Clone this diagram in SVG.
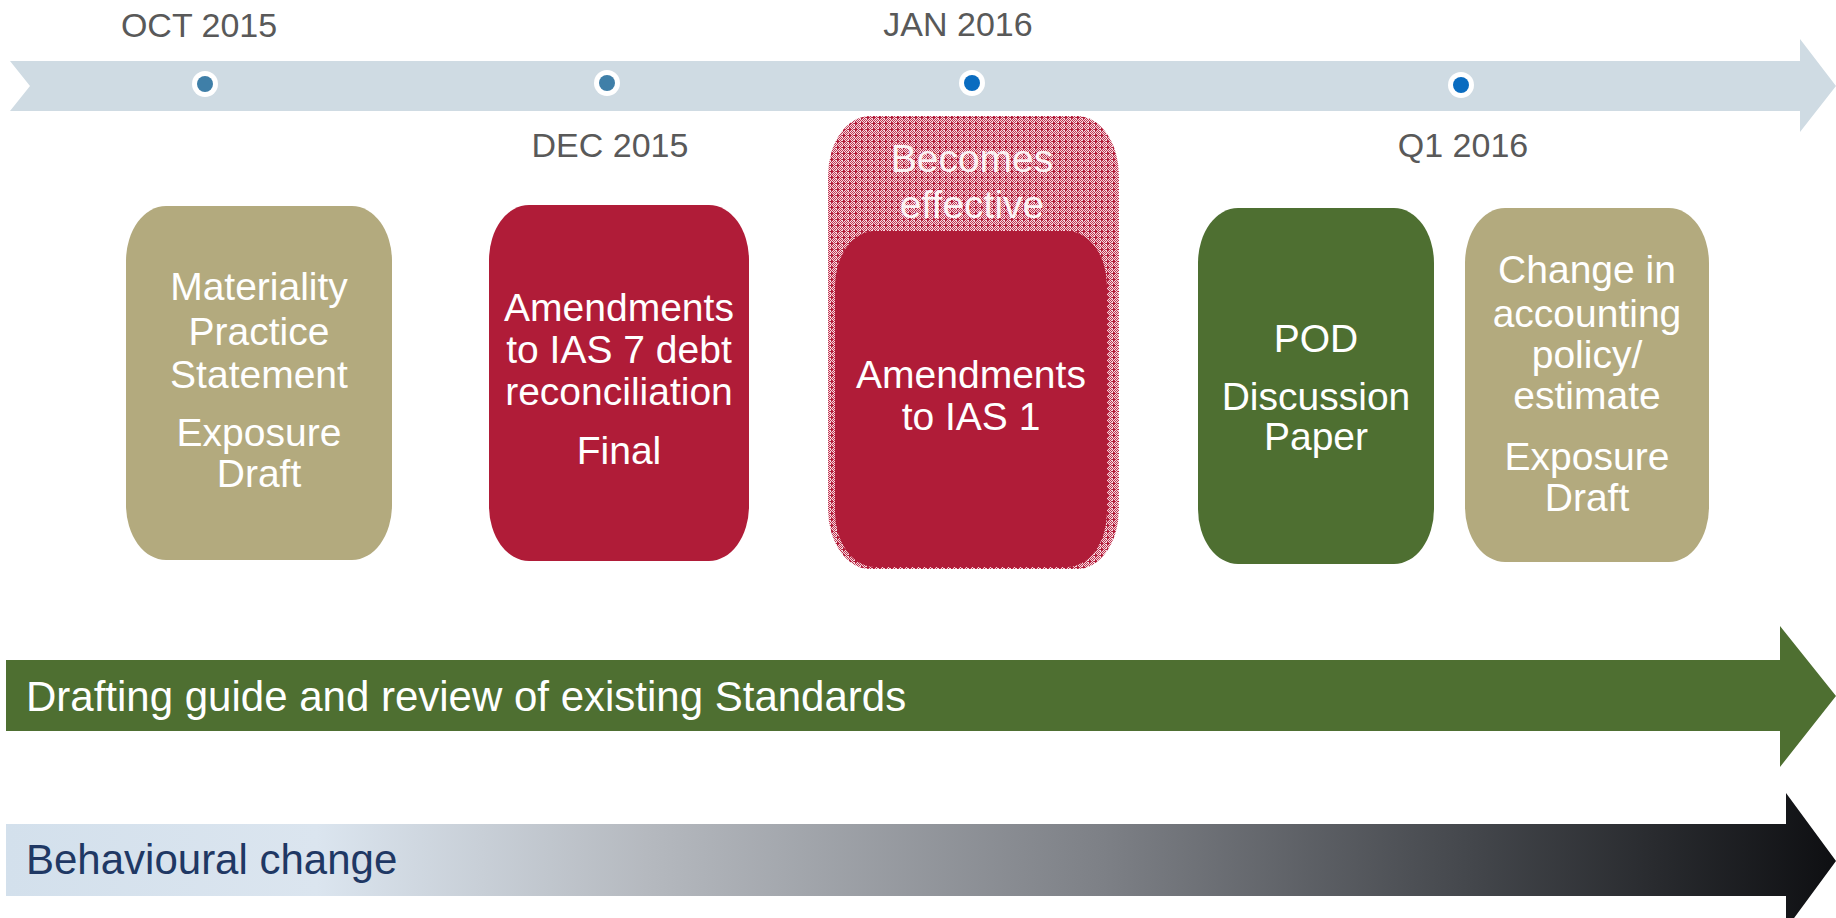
<svg xmlns="http://www.w3.org/2000/svg" width="1836" height="918" viewBox="0 0 1836 918">
<style>
.date{font-family:"Liberation Sans",Arial,sans-serif;font-size:34px;fill:#595959;text-anchor:middle}
.bt{font-family:"Liberation Sans",Arial,sans-serif;font-size:39px;fill:#ffffff;text-anchor:middle}
.band{font-family:"Liberation Sans",Arial,sans-serif;font-size:42px}
.ring{fill:#ffffff}
</style>
<defs>
<pattern id="dots" width="6" height="6" patternUnits="userSpaceOnUse">
<rect width="6" height="6" fill="#f4d9df"/>
<path d="M0 0h1v1h-1zM2 0h1v1h-1zM4 0h1v1h-1zM1 1h1v1h-1zM3 1h1v1h-1zM5 1h1v1h-1zM0 2h1v1h-1zM4 2h1v1h-1zM1 5h1v1h-1zM3 5h1v1h-1zM5 5h1v1h-1zM0 4h1v1h-1zM4 4h1v1h-1zM5 3h1v1h-1zM1 3h1v1h-1z" fill="#c0334f"/>
<path d="M2 3h3v1h-3zM3 2h1v3h-1z" fill="#b01c38"/>
</pattern>
<linearGradient id="grad" x1="0" y1="0" x2="1" y2="0">
<stop offset="0" stop-color="#d3e0ec"/>
<stop offset="0.17" stop-color="#dbe5ef"/>
<stop offset="0.35" stop-color="#b5b9bf"/>
<stop offset="0.6" stop-color="#7d8086"/>
<stop offset="0.8" stop-color="#44474c"/>
<stop offset="1" stop-color="#0e0f12"/>
</linearGradient>
</defs>
<rect width="1836" height="918" fill="#ffffff"/>

<g id="timeline">
<polygon points="10,61 1800,61 1800,39 1836,86 1800,132 1800,111 10,111 30,86" fill="#cfdbe3"/>
<circle class="ring" cx="205" cy="84" r="13"/><circle cx="205" cy="84" r="8" fill="#3f7fa8"/>
<circle class="ring" cx="607" cy="83" r="13"/><circle cx="607" cy="83" r="8" fill="#3f7fa8"/>
<circle class="ring" cx="972" cy="83" r="13"/><circle cx="972" cy="83" r="8" fill="#0a6cc0"/>
<circle class="ring" cx="1461" cy="85" r="13"/><circle cx="1461" cy="85" r="8" fill="#0a6cc0"/>
<text class="date" x="199" y="37">OCT 2015</text>
<text class="date" x="958" y="36">JAN 2016</text>
<text class="date" x="610" y="157">DEC 2015</text>
<text class="date" x="1463" y="157">Q1 2016</text>
</g>

<g id="materiality">
<rect x="126" y="206" width="266" height="354" rx="40" ry="55" fill="#b3aa7e"/>
<text class="bt" x="259" y="300">Materiality</text>
<text class="bt" x="259" y="345">Practice</text>
<text class="bt" x="259" y="388">Statement</text>
<text class="bt" x="259" y="446">Exposure</text>
<text class="bt" x="259" y="487">Draft</text>
</g>

<g id="ias7">
<rect x="489" y="205" width="260" height="356" rx="40" ry="55" fill="#b01c38"/>
<text class="bt" x="619" y="321">Amendments</text>
<text class="bt" x="619" y="363">to IAS 7 debt</text>
<text class="bt" x="619" y="405">reconciliation</text>
<text class="bt" x="619" y="464">Final</text>
</g>

<g id="ias1">
<rect x="828" y="116" width="291" height="453" rx="42" ry="60" fill="url(#dots)"/>
<text class="bt" x="972" y="172" font-size="41" opacity="0.9">Becomes</text>
<text class="bt" x="972" y="218" font-size="41" opacity="0.9">effective</text>
<rect x="835" y="231" width="272" height="336" rx="40" ry="55" fill="#b01c38"/>
<text class="bt" x="971" y="388">Amendments</text>
<text class="bt" x="971" y="430">to IAS 1</text>
</g>

<g id="pod">
<rect x="1198" y="208" width="236" height="356" rx="40" ry="55" fill="#4e6f31"/>
<text class="bt" x="1316" y="352" font-size="42">POD</text>
<text class="bt" x="1316" y="410" font-size="36">Discussion</text>
<text class="bt" x="1316" y="450" font-size="36">Paper</text>
</g>

<g id="policy">
<rect x="1465" y="208" width="244" height="354" rx="40" ry="55" fill="#b3aa7e"/>
<text class="bt" x="1587" y="283">Change in</text>
<text class="bt" x="1587" y="327">accounting</text>
<text class="bt" x="1587" y="368">policy/</text>
<text class="bt" x="1587" y="409">estimate</text>
<text class="bt" x="1587" y="470">Exposure</text>
<text class="bt" x="1587" y="511">Draft</text>
</g>

<g id="drafting">
<polygon points="6,660 1780,660 1780,626 1836,696 1780,767 1780,731 6,731" fill="#4e6f31"/>
<text class="band" x="26" y="711" fill="#ffffff">Drafting guide and review of existing Standards</text>
</g>

<g id="behaviour">
<polygon points="6,824 1786,824 1786,793 1836,861 1786,929 1786,896 6,896" fill="url(#grad)"/>
<text class="band" x="26" y="874" fill="#1f3864">Behavioural change</text>
</g>
</svg>
